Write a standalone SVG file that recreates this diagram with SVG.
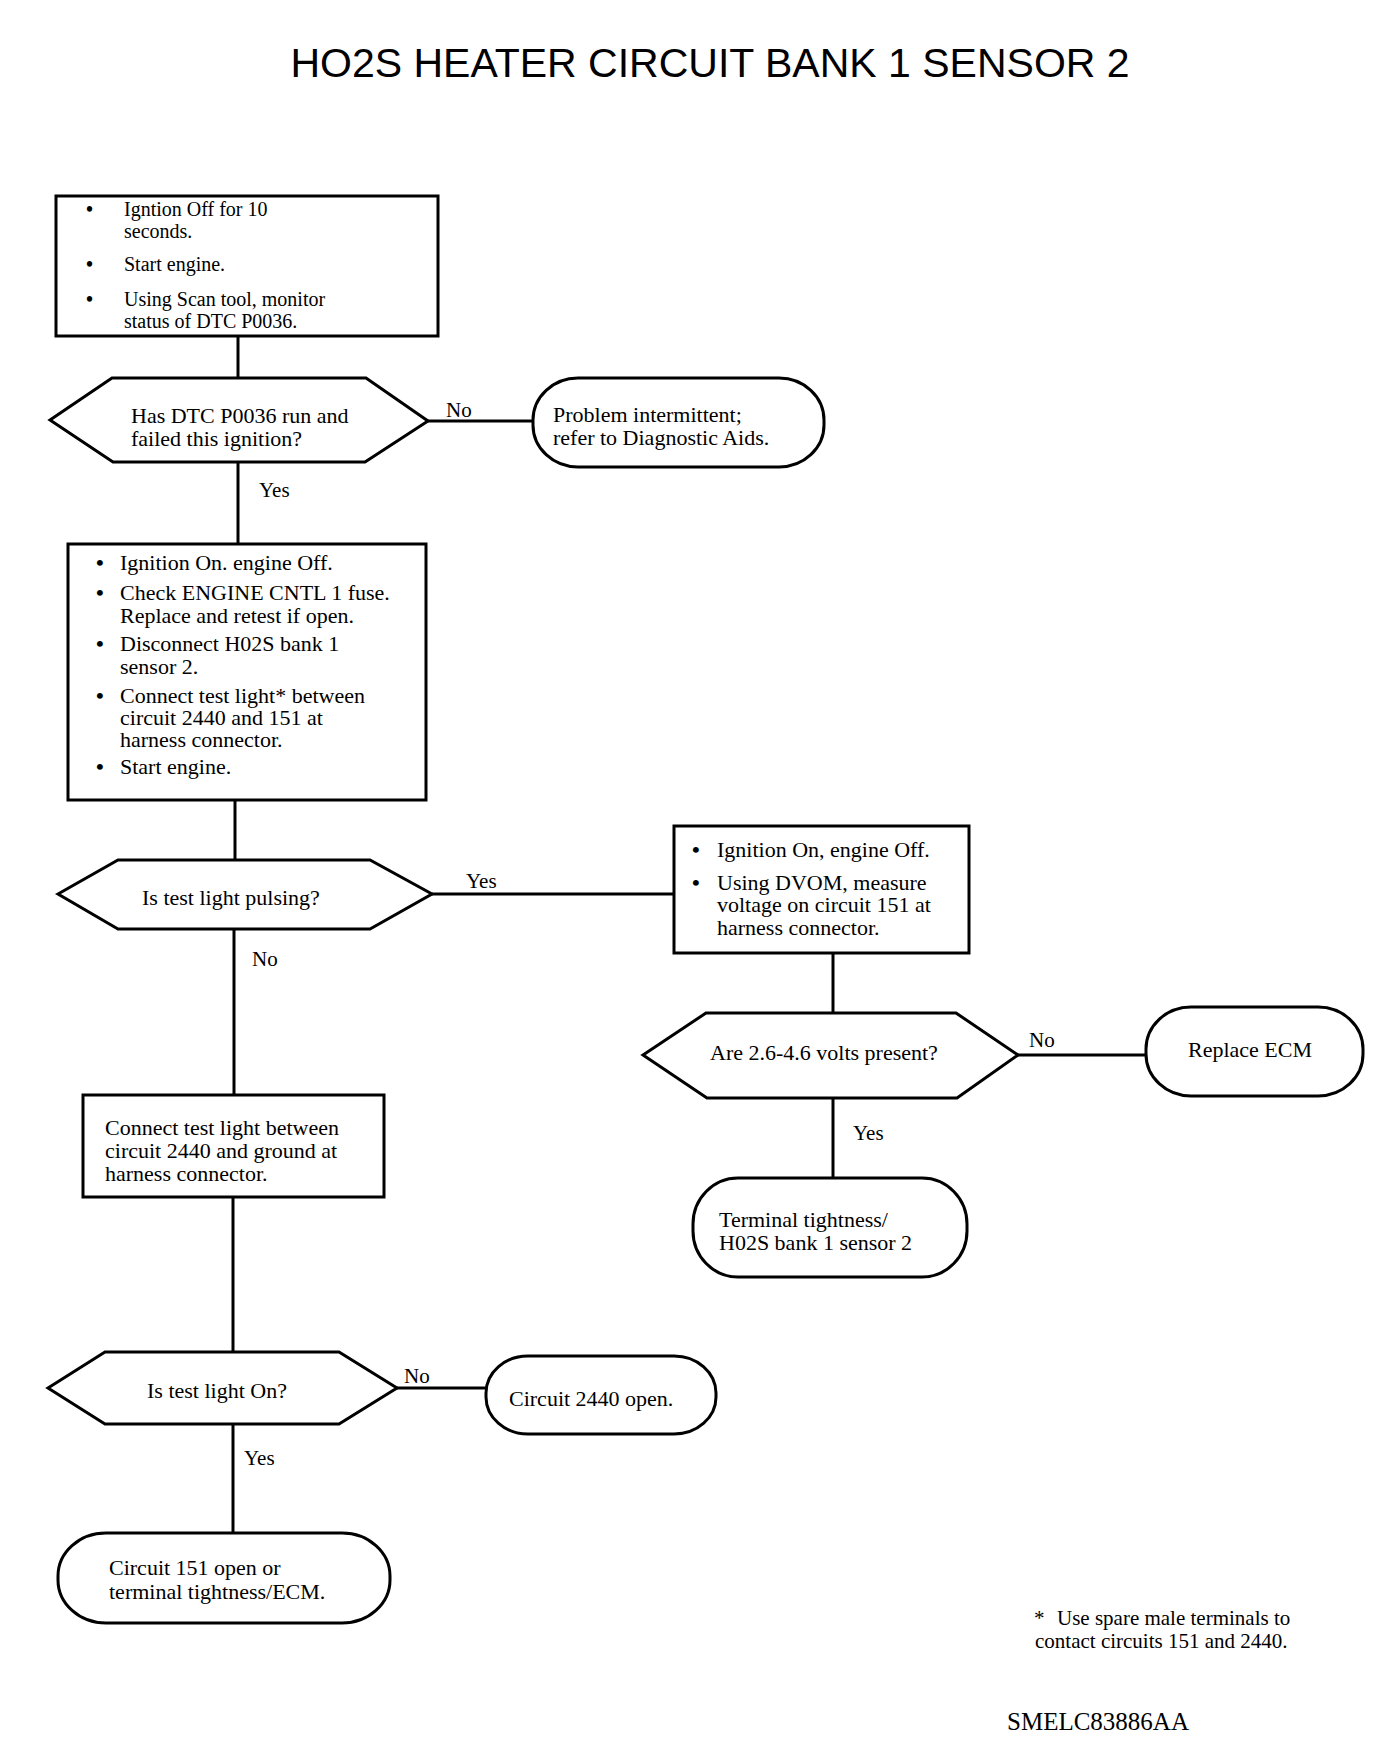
<svg xmlns="http://www.w3.org/2000/svg" width="1392" height="1750" viewBox="0 0 1392 1750">
<style>
.s{fill:#fff;stroke:#000;stroke-width:3}
.c{fill:none;stroke:#000;stroke-width:3}
text{font-family:"Liberation Serif","Times New Roman",serif;font-size:22px;fill:#000}
.b1{font-size:20px}
.lb{font-size:21px}
.fn{font-size:21px}
.bu{font-weight:bold}
.title{font-family:"Liberation Sans",Arial,sans-serif;font-size:41px}
</style>
<rect width="1392" height="1750" fill="#fff"/>
<text class="title" x="710" y="77" text-anchor="middle">HO2S HEATER CIRCUIT BANK 1 SENSOR 2</text>

<g id="connectors">
<line class="c" x1="238" y1="336" x2="238" y2="378"/>
<line class="c" x1="428" y1="421" x2="533" y2="421"/>
<line class="c" x1="238" y1="462" x2="238" y2="544"/>
<line class="c" x1="235" y1="800" x2="235" y2="860"/>
<line class="c" x1="432" y1="894" x2="674" y2="894"/>
<line class="c" x1="234" y1="929" x2="234" y2="1095"/>
<line class="c" x1="833" y1="953" x2="833" y2="1013"/>
<line class="c" x1="1018" y1="1055" x2="1146" y2="1055"/>
<line class="c" x1="833" y1="1098" x2="833" y2="1178"/>
<line class="c" x1="233" y1="1197" x2="233" y2="1352"/>
<line class="c" x1="397" y1="1388" x2="486" y2="1388"/>
<line class="c" x1="233" y1="1424" x2="233" y2="1533"/>
<text class="lb" x="446" y="417">No</text>
<text class="lb" x="259" y="497">Yes</text>
<text class="lb" x="466" y="888">Yes</text>
<text class="lb" x="252" y="966">No</text>
<text class="lb" x="1029" y="1047">No</text>
<text class="lb" x="853" y="1140">Yes</text>
<text class="lb" x="404" y="1383">No</text>
<text class="lb" x="244" y="1465">Yes</text>
</g>

<g id="box1">
<rect class="s" x="56" y="196" width="382" height="140"/>
<text class="b1 bu" x="86" y="216">•</text>
<text class="b1" x="124" y="216">Igntion Off for 10</text>
<text class="b1" x="124" y="238">seconds.</text>
<text class="b1 bu" x="86" y="271">•</text>
<text class="b1" x="124" y="271">Start engine.</text>
<text class="b1 bu" x="86" y="306">•</text>
<text class="b1" x="124" y="306">Using Scan tool, monitor</text>
<text class="b1" x="124" y="328">status of DTC P0036.</text>
</g>

<g id="dec1">
<polygon class="s" points="50,420 112,378 366,378 428,421 365,462 113,462"/>
<text x="131" y="423">Has DTC P0036 run and</text>
<text x="131" y="446">failed this ignition?</text>
</g>

<g id="term1">
<rect class="s" x="533" y="378" width="291" height="89" rx="45" ry="42"/>
<text x="553" y="422">Problem intermittent;</text>
<text x="553" y="445">refer to Diagnostic Aids.</text>
</g>

<g id="box2">
<rect class="s" x="68" y="544" width="358" height="256"/>
<text class="bu" x="96" y="570">•</text>
<text x="120" y="570">Ignition On. engine Off.</text>
<text class="bu" x="96" y="600">•</text>
<text x="120" y="600">Check ENGINE CNTL 1 fuse.</text>
<text x="120" y="623">Replace and retest if open.</text>
<text class="bu" x="96" y="651">•</text>
<text x="120" y="651">Disconnect H02S bank 1</text>
<text x="120" y="674">sensor 2.</text>
<text class="bu" x="96" y="703">•</text>
<text x="120" y="703">Connect test light* between</text>
<text x="120" y="725">circuit 2440 and 151 at</text>
<text x="120" y="747">harness connector.</text>
<text class="bu" x="96" y="774">•</text>
<text x="120" y="774">Start engine.</text>
</g>

<g id="dec2">
<polygon class="s" points="58,894 118,860 370,860 432,894 370,929 118,929"/>
<text x="142" y="905">Is test light pulsing?</text>
</g>

<g id="box3">
<rect class="s" x="674" y="826" width="295" height="127"/>
<text class="bu" x="692" y="857">•</text>
<text x="717" y="857">Ignition On, engine Off.</text>
<text class="bu" x="692" y="890">•</text>
<text x="717" y="890">Using DVOM, measure</text>
<text x="717" y="912">voltage on circuit 151 at</text>
<text x="717" y="935">harness connector.</text>
</g>

<g id="dec3">
<polygon class="s" points="643,1055 706,1013 956,1013 1018,1055 957,1098 707,1098"/>
<text x="710" y="1060">Are 2.6-4.6 volts present?</text>
</g>

<g id="term_ecm">
<rect class="s" x="1146" y="1007" width="217" height="89" rx="45" ry="42"/>
<text x="1188" y="1057">Replace ECM</text>
</g>

<g id="term_tight">
<rect class="s" x="693" y="1178" width="274" height="99" rx="45" ry="46"/>
<text x="719" y="1227">Terminal tightness/</text>
<text x="719" y="1250">H02S bank 1 sensor 2</text>
</g>

<g id="box4">
<rect class="s" x="83" y="1095" width="301" height="102"/>
<text x="105" y="1135">Connect test light between</text>
<text x="105" y="1158">circuit 2440 and ground at</text>
<text x="105" y="1181">harness connector.</text>
</g>

<g id="dec4">
<polygon class="s" points="48,1388 105,1352 339,1352 397,1388 339,1424 105,1424"/>
<text x="147" y="1398">Is test light On?</text>
</g>

<g id="term_2440">
<rect class="s" x="486" y="1356" width="230" height="78" rx="42" ry="37"/>
<text x="509" y="1406">Circuit 2440 open.</text>
</g>

<g id="term_151">
<rect class="s" x="58" y="1533" width="332" height="90" rx="48" ry="43"/>
<text x="109" y="1575">Circuit 151 open or</text>
<text x="109" y="1599">terminal tightness/ECM.</text>
</g>

<g id="footnote">
<text class="fn" x="1034" y="1625">*</text>
<text class="fn" x="1057" y="1625">Use spare male terminals to</text>
<text class="fn" x="1035" y="1648">contact circuits 151 and 2440.</text>
<text x="1007" y="1730" style="font-size:25px">SMELC83886AA</text>
</g>
</svg>
